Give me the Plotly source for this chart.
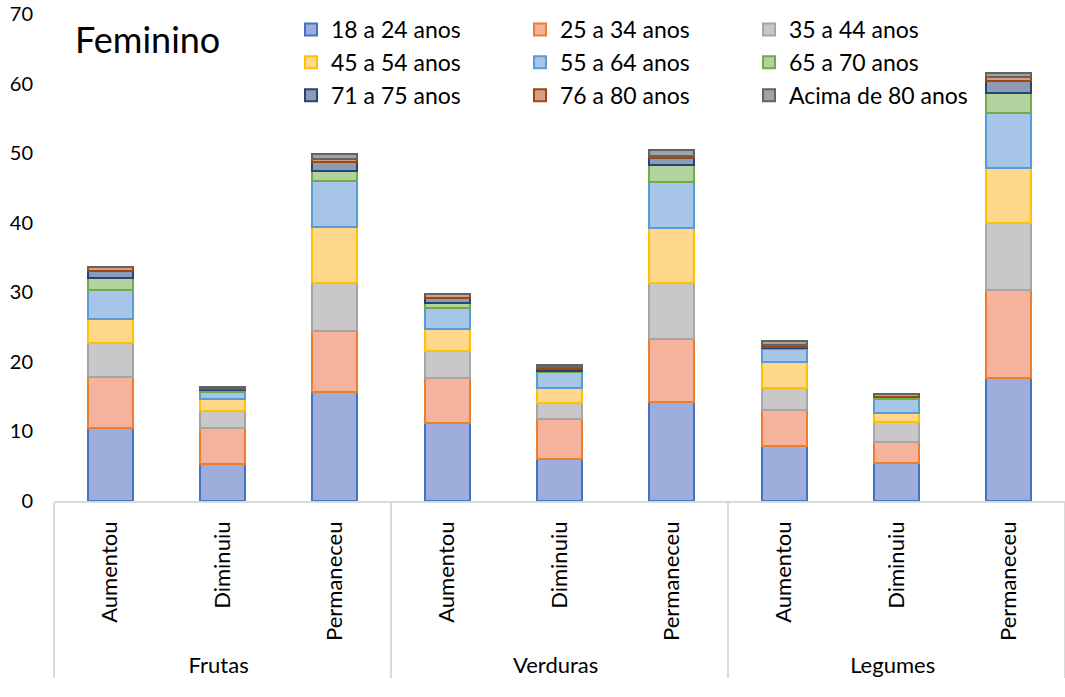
import plotly.graph_objects as go

# Outer groups (food type) and inner categories (change in consumption)
grupos = ["Frutas", "Frutas", "Frutas", "Verduras", "Verduras", "Verduras", "Legumes", "Legumes", "Legumes"]
respostas = ["Aumentou", "Diminuiu", "Permaneceu"] * 3

faixas = ["18 a 24 anos", "25 a 34 anos", "35 a 44 anos", "45 a 54 anos", "55 a 64 anos",
          "65 a 70 anos", "71 a 75 anos", "76 a 80 anos", "Acima de 80 anos"]

# Percentages per age band, one value per (group, answer) pair
v18_24 = [10.5, 5.3, 15.7, 11.2, 6.0, 14.3, 7.9, 5.5, 17.7]
v25_34 = [7.3, 5.2, 8.7, 6.5, 5.8, 9.0, 5.2, 3.0, 12.7]
v35_44 = [4.9, 2.4, 7.0, 3.8, 2.3, 8.0, 3.2, 2.8, 9.6]
v45_54 = [3.5, 1.7, 8.0, 3.2, 2.2, 7.9, 3.7, 1.3, 7.9]
v55_64 = [4.2, 1.0, 6.6, 3.0, 2.2, 6.7, 1.8, 2.1, 7.8]
v65_70 = [1.6, 0.3, 1.5, 0.7, 0.2, 2.4, 0.2, 0.3, 3.0]
v71_75 = [1.0, 0.2, 1.2, 0.8, 0.3, 1.0, 0.2, 0.0, 1.6]
v76_80 = [0.6, 0.1, 0.5, 0.5, 0.3, 0.3, 0.2, 0.4, 0.7]
v80_mais = [0.1, 0.2, 0.7, 0.1, 0.3, 0.9, 0.6, 0.0, 0.5]

series = [v18_24, v25_34, v35_44, v45_54, v55_64, v65_70, v71_75, v76_80, v80_mais]

preenchimento = ["#9EAEDC", "#F5B39B", "#C8C8C8", "#FFD88C", "#A6C5E7",
                 "#B2D39E", "#8E9BB6", "#D2A089", "#A3A3A3"]
contorno = ["#4472C4", "#ED7D31", "#A5A5A5", "#FFC000", "#5B9BD5",
            "#70AD47", "#264478", "#9E480E", "#636363"]

# Legend laid out in three columns, filled row by row
legendas = ["legend", "legend2", "legend3"]

fig = go.Figure()
for i, (nome, valores, cor, borda) in enumerate(zip(faixas, series, preenchimento, contorno)):
    fig.add_trace(go.Bar(
        x=[grupos, respostas],
        y=valores,
        name=nome,
        legend=legendas[i % 3],
        legendgroup=nome,
        marker=dict(color=cor, line=dict(color=borda, width=2)),
    ))

fonte = "Lato, 'Open Sans', sans-serif"
W, H = 1065, 697
ML, MT, MB = 54, 14, 196
PW, PH = W - ML, H - MT - MB

def legenda(esquerda_px):
    return dict(
        orientation="v",
        xref="paper",
        yref="paper",
        x=(esquerda_px - ML) / PW,
        xanchor="left",
        y=1 + (MT - 8) / PH,
        yanchor="top",
        traceorder="normal",
        tracegroupgap=0,
        font=dict(size=23, family=fonte, color="#000000"),
        bgcolor="rgba(0,0,0,0)",
        itemwidth=30,
    )

fig.update_layout(
    width=W,
    height=H,
    barmode="stack",
    bargap=0.6,
    plot_bgcolor="white",
    paper_bgcolor="white",
    font=dict(family=fonte, size=22, color="#000000"),
    margin=dict(l=ML, r=0, t=MT, b=MB, autoexpand=False),
    title=dict(text="Feminino", x=75 / W, xanchor="left", y=1 - 40 / H,
               yanchor="middle", font=dict(size=36, family=fonte, color="#000000")),
    legend=legenda(291),
    legend2=legenda(520),
    legend3=legenda(749),
    showlegend=True,
)

fig.update_xaxes(
    type="multicategory",
    showline=True,
    linecolor="#D9D9D9",
    linewidth=1.5,
    tickangle=-90,
    showdividers=True,
    dividercolor="#D9D9D9",
    dividerwidth=1.5,
    showgrid=False,
    ticks="",
    ticklabelstandoff=10,
    tickfont=dict(size=22, family=fonte, color="#000000"),
)

fig.update_yaxes(
    range=[0, 70],
    dtick=10,
    showgrid=False,
    zeroline=False,
    showline=False,
    ticks="",
    ticklabelstandoff=20,
    tickfont=dict(size=20, family=fonte, color="#000000"),
)

fig.write_html("out.html")
